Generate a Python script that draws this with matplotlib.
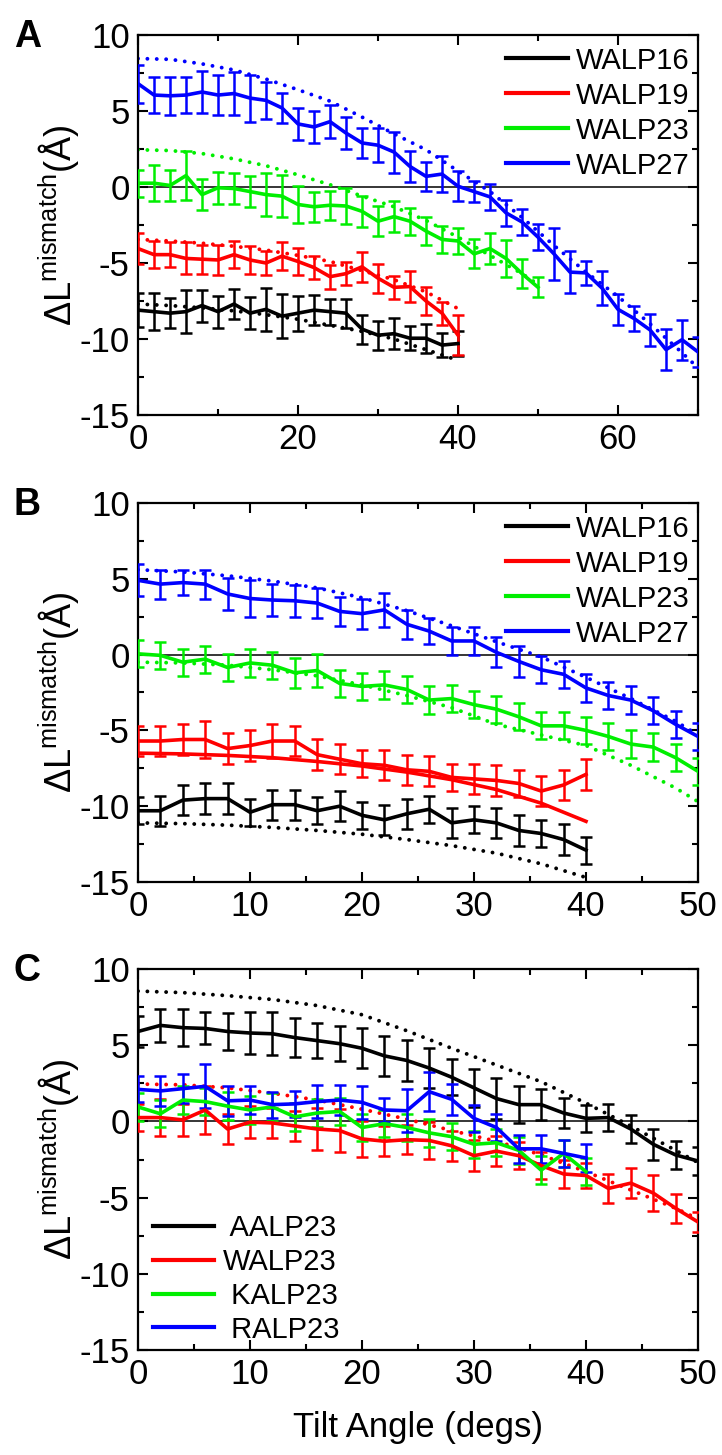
import numpy as np
import matplotlib
matplotlib.use("Agg")
import matplotlib.pyplot as plt
from matplotlib.ticker import MultipleLocator

plt.rcParams['font.family'] = ['Liberation Sans', 'DejaVu Sans']
plt.rcParams['mathtext.fontset'] = 'custom'
plt.rcParams['mathtext.rm'] = 'Liberation Sans'
plt.rcParams['axes.unicode_minus'] = False

# ---------------- Panel A ----------------
ang_a40 = np.arange(0, 41, 2)
ang_a50 = np.arange(0, 51, 2)
ang_a70 = np.arange(0, 71, 2)

walp16_a = [-8.1, -8.2, -8.3, -8.2, -7.8, -8.2, -7.7, -8.3, -8.05, -8.5, -8.3,
            -8.1, -8.2, -8.3, -9.35, -9.75, -9.65, -9.95, -9.95, -10.4, -10.3]
walp16_a_err = [1.1, 1.2, 1.0, 1.4, 1.05, 1.05, 1.0, 1.05, 1.4, 1.45, 1.15,
                1.0, 0.85, 0.95, 0.95, 0.95, 1.0, 0.8, 0.95, 0.8, 0.8]
walp19_a = [-4.05, -4.45, -4.45, -4.7, -4.75, -4.8, -4.45, -4.8, -5.0, -4.55, -4.9,
            -5.3, -5.9, -5.7, -5.25, -6.0, -6.6, -6.55, -7.5, -8.3, -9.75]
walp19_a_err = [1.0, 0.9, 0.8, 1.05, 0.95, 1.0, 0.9, 0.9, 0.8, 0.9, 0.9,
                0.75, 0.8, 0.75, 1.0, 0.95, 0.75, 1.0, 0.9, 0.75, 1.3]
walp23 = [0.25, 0.25, 0.1, 0.75, -0.5, -0.05, -0.1, -0.3, -0.5, -0.6, -1.15, -1.3, -1.2,
          -1.25, -1.6, -2.25, -1.95, -2.25, -2.9, -3.45, -3.55, -4.4, -4.05, -4.7, -5.7, -6.6]
walp23_err = [0.9, 1.2, 1.05, 1.6, 1.0, 1.05, 1.0, 1.0, 1.4, 1.4, 1.2, 1.0, 0.95,
              1.2, 1.0, 1.0, 1.0, 0.9, 0.9, 0.9, 0.85, 0.95, 1.0, 1.2, 0.95, 0.65]
walp27_a = [6.8, 6.05, 6.0, 6.05, 6.25, 6.05, 6.15, 5.85, 5.7, 5.2, 4.15, 3.95, 4.3, 3.55,
            2.9, 2.75, 2.3, 1.35, 0.7, 0.85, 0.05, -0.3, -0.65, -1.7, -2.3, -3.3, -4.4,
            -5.6, -5.65, -6.65, -8.05, -8.65, -9.4, -10.7, -10.05, -10.85]
walp27_a_err = [1.25, 1.2, 1.25, 1.2, 1.4, 1.3, 1.4, 1.55, 1.2, 1.0, 1.05, 1.05, 1.1, 1.05,
                1.0, 1.1, 1.35, 1.0, 0.95, 1.2, 1.0, 0.7, 0.85, 0.85, 0.85, 0.85, 1.7,
                1.4, 0.8, 1.1, 1.0, 0.8, 1.05, 1.35, 1.3, 1.0]

# model curves (dotted)
mod_ang40 = [0, 4, 8, 12, 16, 20, 24, 28, 32, 36, 40]
mod_ang50 = [0, 4, 8, 12, 16, 20, 24, 28, 32, 36, 40, 44, 48, 50]
mod_ang70 = [0, 4, 8, 12, 16, 20, 24, 28, 32, 36, 40, 44, 48, 52, 56, 60, 64, 68, 70]
walp16_a_mod = [-7.7, -7.8, -7.95, -8.15, -8.4, -8.7, -9.1, -9.5, -10.0, -10.7, -11.4]
walp19_a_mod = [-3.45, -3.55, -3.7, -3.9, -4.15, -4.5, -4.9, -5.5, -6.1, -6.9, -8.0]
walp23_mod = [2.45, 2.4, 2.2, 1.85, 1.4, 0.8, 0.15, -0.6, -1.3, -2.2, -3.3, -4.5, -5.7, -6.4]
walp27_a_mod = [8.45, 8.4, 8.1, 7.7, 7.1, 6.4, 5.65, 4.6, 3.5, 2.45, 1.05, -0.3, -2.0,
                -3.85, -5.6, -7.2, -9.0, -10.9, -11.9]

# ---------------- Panel B ----------------
walp16_b = [-10.3, -10.3, -9.6, -9.5, -9.5, -10.4, -9.9, -9.9, -10.3, -10.0, -10.6,
            -10.9, -10.5, -10.2, -11.1, -10.9, -11.1, -11.6, -11.8, -12.2, -12.9]
walp16_b_err = [0.9, 1.0, 1.0, 1.0, 1.0, 0.9, 1.0, 1.0, 0.9, 1.0, 0.9,
                1.0, 1.0, 0.9, 1.0, 0.9, 1.0, 1.0, 0.9, 1.0, 0.9]
walp19_b = [-5.7, -5.7, -5.6, -5.6, -6.2, -6.0, -5.7, -5.7, -6.6, -6.9, -7.2,
            -7.3, -7.6, -7.7, -8.1, -8.2, -8.3, -8.5, -9.0, -8.6, -7.9]
walp19_b_err = [1.0, 1.0, 1.0, 1.2, 1.0, 1.0, 1.1, 1.0, 1.0, 1.0, 0.9,
                1.0, 1.0, 1.0, 0.9, 1.0, 1.0, 0.9, 1.0, 1.0, 1.0]
walp23_b = [0.05, -0.05, -0.5, -0.3, -0.85, -0.55, -0.7, -1.2, -1.05, -1.9, -2.1, -2.0, -2.3,
            -3.0, -2.9, -3.3, -3.6, -4.1, -4.7, -4.7, -5.0, -5.4, -5.9, -6.1, -6.8, -7.7]
walp23_b_err = [0.9, 0.9, 0.9, 0.9, 0.9, 0.9, 0.9, 1.0, 1.1, 0.9, 0.9, 0.9, 0.9,
                0.9, 0.9, 0.9, 0.9, 0.9, 0.9, 0.9, 0.9, 0.9, 0.9, 0.9, 0.9, 0.9]
walp27_b = [4.9, 4.65, 4.75, 4.65, 4.0, 3.7, 3.6, 3.55, 3.4, 2.85, 2.7, 2.95, 2.0,
            1.55, 0.9, 0.9, 0.15, -0.45, -1.0, -1.3, -2.2, -2.7, -3.0, -3.7, -4.6, -5.4]
walp27_b_err = [1.05, 0.95, 0.8, 0.95, 1.05, 1.25, 1.05, 1.05, 1.0, 0.95, 1.0, 1.1, 0.95,
                0.85, 0.9, 0.9, 1.0, 1.0, 0.9, 0.9, 0.9, 0.9, 0.9, 0.9, 0.9, 0.9]
walp16_b_mod = [-11.1, -11.15, -11.25, -11.4, -11.6, -11.85, -12.2, -12.6, -13.1, -13.8, -14.7]
walp19_b_mod = [-6.5, -6.55, -6.65, -6.8, -7.05, -7.35, -7.75, -8.25, -8.9, -9.8, -11.0]
walp23_b_mod = [-0.5, -0.55, -0.7, -1.0, -1.4, -2.0, -2.7, -3.5, -4.6, -5.3, -6.0, -7.3, -8.8, -9.7]
walp27_b_mod = [5.6, 5.45, 5.2, 4.85, 4.4, 3.75, 2.9, 1.9, 0.85, -0.15, -1.5, -2.9, -4.4, -5.3]

# ---------------- Panel C ----------------
aalp23 = [5.9, 6.3, 6.15, 6.1, 5.9, 5.8, 5.75, 5.5, 5.3, 5.1, 4.8, 4.3, 4.0, 3.5, 2.9,
          2.2, 1.5, 1.1, 1.1, 0.55, 0.2, 0.25, -0.5, -1.5, -2.2, -2.6]
aalp23_err = [1.0, 1.1, 1.2, 1.05, 1.2, 1.4, 1.4, 1.3, 1.15, 1.15, 1.3, 1.3, 1.35, 1.3, 1.2,
              1.25, 1.35, 1.2, 1.0, 1.0, 0.9, 0.9, 0.9, 1.0, 0.9, 0.9]
aalp23_mod = [8.55, 8.45, 8.25, 8.0, 7.6, 7.0, 5.95, 4.8, 3.7, 2.6, 1.2, -0.3, -1.9, -2.7]
kalp23 = [0.95, 0.5, 1.4, 1.3, 1.0, 0.75, 0.95, 0.3, 0.55, 0.65, -0.4, -0.15, -0.4, -0.75,
          -1.0, -1.5, -1.4, -1.9, -3.2, -2.1, -3.3]
kalp23_err = [0.9, 0.9, 0.9, 0.9, 0.9, 0.9, 0.9, 0.9, 0.9, 0.9, 0.9, 0.9, 0.9, 0.9,
              0.9, 0.9, 0.9, 0.9, 0.9, 0.9, 0.9]
ralp23 = [2.1, 2.0, 2.15, 2.3, 1.35, 1.4, 1.1, 1.15, 1.3, 1.4, 1.25, 0.75, 0.7, 1.95,
          1.45, 0.2, -0.4, -1.8, -1.8, -2.1, -2.4]
ralp23_err = [0.85, 1.0, 0.95, 1.45, 1.0, 0.9, 0.85, 0.85, 1.1, 1.0, 1.1, 0.8, 1.4, 1.3,
              1.0, 0.9, 0.9, 0.9, 0.9, 0.9, 0.9]

BLACK, RED, GREEN, BLUE = '#000000', '#ff0000', '#00ee00', '#0000ff'

W, H = 722, 1455
fig = plt.figure(figsize=(W / 100, H / 100), dpi=100)


def make_ax(top, bottom):
    return fig.add_axes([138 / W, 1 - bottom / H, 560 / W, (bottom - top) / H])


def data_line(ax, x, y, err, c, label=None):
    ax.errorbar(x, y, yerr=err, color=c, lw=2.6, elinewidth=1.8, capsize=4,
                capthick=1.8, label=label, zorder=3)


def model_line(ax, x, y, c):
    ax.plot(x, y, color=c, lw=2.8, linestyle=(0, (0.01, 2.4)),
            dash_capstyle='round', zorder=2)


def style(ax, xmax, xmaj, letter, top_px):
    ax.set_xlim(0, xmax)
    ax.set_ylim(-15, 10)
    ax.axhline(0, color='black', lw=1.1, zorder=1)
    ax.xaxis.set_major_locator(MultipleLocator(xmaj))
    ax.xaxis.set_minor_locator(MultipleLocator(xmaj / 2))
    ax.yaxis.set_major_locator(MultipleLocator(5))
    ax.yaxis.set_minor_locator(MultipleLocator(2.5))
    ax.tick_params(which='both', direction='in', top=True, right=True,
                   labelsize=25, width=1.5, pad=6)
    ax.tick_params(which='major', length=7)
    ax.tick_params(which='minor', length=4)
    for s in ax.spines.values():
        s.set_linewidth(1.6)
    ax.set_ylabel(r'$\Delta\mathrm{L}^{\mathrm{mismatch}}$(Å)', fontsize=26)
    ax.yaxis.set_label_coords(-0.102, 0.5)
    fig.text(14 / W, 1 - (top_px - 16) / H, letter, fontsize=27, fontweight='bold',
             va='top', ha='left')


# Panel A
axA = make_ax(35, 415)
data_line(axA, ang_a40, walp16_a, walp16_a_err, BLACK, 'WALP16')
data_line(axA, ang_a40, walp19_a, walp19_a_err, RED, 'WALP19')
data_line(axA, ang_a50, walp23, walp23_err, GREEN, 'WALP23')
data_line(axA, ang_a70, walp27_a, walp27_a_err, BLUE, 'WALP27')
model_line(axA, mod_ang40, walp16_a_mod, BLACK)
model_line(axA, mod_ang40, walp19_a_mod, RED)
model_line(axA, mod_ang50, walp23_mod, GREEN)
model_line(axA, mod_ang70, walp27_a_mod, BLUE)
style(axA, 70, 20, 'A', 35)

# Panel B
axB = make_ax(503, 882)
data_line(axB, ang_a40, walp16_b, walp16_b_err, BLACK, 'WALP16')
data_line(axB, ang_a40, walp19_b, walp19_b_err, RED, 'WALP19')
data_line(axB, ang_a50, walp23_b, walp23_b_err, GREEN, 'WALP23')
data_line(axB, ang_a50, walp27_b, walp27_b_err, BLUE, 'WALP27')
model_line(axB, mod_ang40, walp16_b_mod, BLACK)
axB.plot(mod_ang40, walp19_b_mod, color=RED, lw=2.6, zorder=2)
model_line(axB, mod_ang50, walp23_b_mod, GREEN)
model_line(axB, mod_ang50, walp27_b_mod, BLUE)
style(axB, 50, 10, 'B', 503)

# Panel C
axC = make_ax(969, 1350)
data_line(axC, ang_a50, aalp23, aalp23_err, BLACK, ' AALP23')
data_line(axC, ang_a50, walp23, walp23_err, RED, 'WALP23')
data_line(axC, ang_a40, kalp23, kalp23_err, GREEN, ' KALP23')
data_line(axC, ang_a40, ralp23, ralp23_err, BLUE, ' RALP23')
model_line(axC, mod_ang50, aalp23_mod, BLACK)
model_line(axC, mod_ang50, walp23_mod, RED)
style(axC, 50, 10, 'C', 969)
axC.set_xlabel('Tilt Angle (degs)', fontsize=25, labelpad=14)

for ax, loc, anchor, pad, sp in [(axA, 'upper right', (1.0066, 1.0), 0.3, 0.24),
                                 (axB, 'upper right', (1.0066, 1.0), 0.3, 0.24),
                                 (axC, 'lower left', (0.006, -0.014), 0.3, 0.2)]:
    h, l = ax.get_legend_handles_labels()
    h = [hh[0] for hh in h]
    leg = ax.legend(h, l, loc=loc, bbox_to_anchor=anchor, frameon=False, fontsize=21,
                    handlelength=2.1, handletextpad=pad, labelspacing=sp,
                    borderaxespad=0.0)
    for ln in leg.get_lines():
        ln.set_linewidth(3.0)

fig.savefig('out.png', dpi=100)
